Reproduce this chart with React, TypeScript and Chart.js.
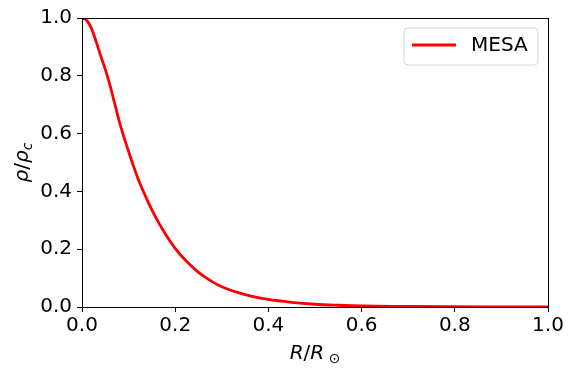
import React, { useEffect, useRef } from "react";
import { Chart, registerables } from "chart.js";

Chart.register(...registerables);

const radius = [0, 0.01, 0.02, 0.03, 0.04, 0.05, 0.06, 0.07, 0.08, 0.09, 0.10, 0.11, 0.12, 0.14, 0.16, 0.18, 0.20, 0.22, 0.25, 0.28, 0.30, 0.35, 0.40, 0.45, 0.50, 0.55, 0.60, 0.70, 0.80, 0.90, 1.0];
const density = [1.0, 0.992, 0.965, 0.92, 0.87, 0.822, 0.768, 0.705, 0.642, 0.588, 0.538, 0.49, 0.445, 0.37, 0.305, 0.25, 0.203, 0.165, 0.12, 0.087, 0.07, 0.043, 0.026, 0.016, 0.0095, 0.006, 0.0035, 0.002, 0.001, 0.0005, 0.0];
const seriesLabel = "MESA";
const xTicks = [0, 0.2, 0.4, 0.6, 0.8, 1.0];
const yTicks = [0, 0.2, 0.4, 0.6, 0.8, 1.0];

const FONT = "'DejaVu Sans', sans-serif";

type Part = { t: string; it?: boolean; sub?: boolean };

function drawMath(ctx: CanvasRenderingContext2D, parts: Part[], size: number) {
  const fontOf = (p: Part) => `${p.it ? "oblique " : ""}${p.sub ? Math.round(size * 0.7) : size}px ${FONT}`;
  let total = 0;
  const widths = parts.map((p) => {
    ctx.font = fontOf(p);
    const w = ctx.measureText(p.t).width;
    total += w;
    return w;
  });
  let x = -total / 2;
  ctx.textBaseline = "alphabetic";
  ctx.textAlign = "left";
  parts.forEach((p, i) => {
    ctx.font = fontOf(p);
    ctx.fillText(p.t, x, p.sub ? size * 0.22 : 0);
    x += widths[i];
  });
}

const decorPlugin = {
  id: "decor",
  afterDatasetsDraw(chart: any) {
    const { ctx, chartArea } = chart;
    const { left, right, top, bottom } = chartArea;
    ctx.save();
    ctx.strokeStyle = "#000";
    ctx.lineWidth = 1;
    ctx.strokeRect(Math.round(left) + 0.5, Math.round(top) + 0.5, Math.round(right - left), Math.round(bottom - top));
    const bx = 404, by = 28, bw = 134, bh = 37, r = 4;
    ctx.beginPath();
    ctx.moveTo(bx + r, by);
    ctx.lineTo(bx + bw - r, by);
    ctx.quadraticCurveTo(bx + bw, by, bx + bw, by + r);
    ctx.lineTo(bx + bw, by + bh - r);
    ctx.quadraticCurveTo(bx + bw, by + bh, bx + bw - r, by + bh);
    ctx.lineTo(bx + r, by + bh);
    ctx.quadraticCurveTo(bx, by + bh, bx, by + bh - r);
    ctx.lineTo(bx, by + r);
    ctx.quadraticCurveTo(bx, by, bx + r, by);
    ctx.closePath();
    ctx.fillStyle = "rgba(255,255,255,0.8)";
    ctx.fill();
    ctx.strokeStyle = "#d5d5d5";
    ctx.lineWidth = 1;
    ctx.stroke();
    ctx.beginPath();
    ctx.moveTo(412, 45);
    ctx.lineTo(456, 45);
    ctx.strokeStyle = "#ff0000";
    ctx.lineWidth = 2.8;
    ctx.stroke();
    ctx.fillStyle = "#000";
    ctx.font = `20px ${FONT}`;
    ctx.textBaseline = "middle";
    ctx.textAlign = "left";
    ctx.fillText(chart.data.datasets[0].label, 471, 46);
    ctx.save();
    ctx.translate((left + right) / 2, 359);
    drawMath(ctx, [{ t: "R", it: true }, { t: "/" }, { t: "R", it: true }, { t: " \u2299", sub: true }], 20);
    ctx.restore();
    ctx.save();
    ctx.translate(28, (top + bottom) / 2);
    ctx.rotate(-Math.PI / 2);
    drawMath(ctx, [{ t: "\u03c1", it: true }, { t: "/" }, { t: "\u03c1", it: true }, { t: "c", it: true, sub: true }], 20);
    ctx.restore();
    ctx.restore();
  },
};

export default function App() {
  const ref = useRef<HTMLCanvasElement>(null);
  useEffect(() => {
    document.body.style.margin = "0";
    const canvas = ref.current!;
    const chart = new Chart(canvas, {
      type: "line",
      data: {
        datasets: [
          {
            label: seriesLabel,
            data: radius.map((x, i) => ({ x, y: density[i] })),
            borderColor: "#ff0000",
            borderWidth: 2.8,
            pointRadius: 0,
            fill: false,
            cubicInterpolationMode: "monotone",
          },
        ],
      },
      options: {
        animation: false,
        responsive: false,
        devicePixelRatio: 1,
        layout: { padding: { left: 0, top: 18, right: 27, bottom: 0 } },
        plugins: { legend: { display: false }, tooltip: { enabled: false } },
        scales: {
          x: {
            type: "linear",
            min: 0,
            max: 1,
            afterBuildTicks: (s: any) => {
              s.ticks = xTicks.map((v) => ({ value: v }));
            },
            afterFit: (s: any) => {
              s.height = 68;
            },
            ticks: {
              color: "#000",
              font: { family: FONT, size: 20 },
              padding: 2,
              maxRotation: 0,
              autoSkip: false,
              callback: (v: any) => Number(v).toFixed(1),
            },
            grid: { drawOnChartArea: false, color: "#000", tickLength: 5, tickWidth: 1 },
            border: { color: "#000", width: 1 },
          },
          y: {
            type: "linear",
            min: 0,
            max: 1,
            afterBuildTicks: (s: any) => {
              s.ticks = yTicks.map((v) => ({ value: v }));
            },
            afterFit: (s: any) => {
              s.width = 82;
            },
            ticks: {
              color: "#000",
              font: { family: FONT, size: 20 },
              padding: 5,
              autoSkip: false,
              callback: (v: any) => Number(v).toFixed(1),
            },
            grid: { drawOnChartArea: false, color: "#000", tickLength: 5, tickWidth: 1 },
            border: { color: "#000", width: 1 },
          },
        },
      },
      plugins: [decorPlugin],
    } as any);
    return () => chart.destroy();
  }, []);
  return (
    <div style={{ width: 575, height: 375 }}>
      <canvas ref={ref} width={575} height={375} />
    </div>
  );
}
